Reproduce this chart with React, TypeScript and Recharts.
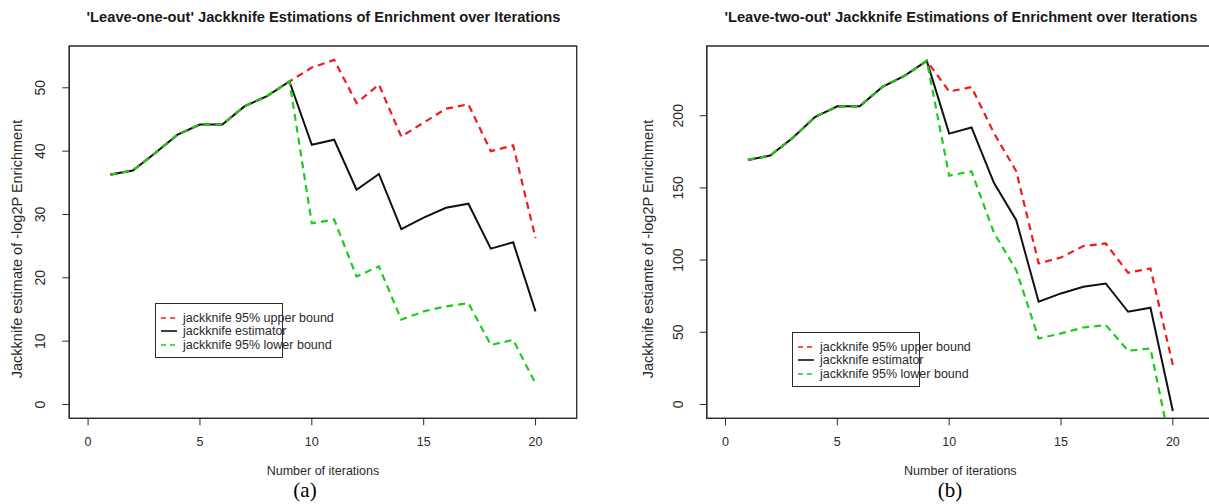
import { Label, Legend, Line, LineChart, ReferenceArea, XAxis, YAxis } from "recharts";

const FONT = '"Liberation Sans", Arial, Helvetica, sans-serif';
const INK = "#2a2a2a";
const RED = "#f01b1b";
const GREEN = "#1ccc1c";
const BLACK = "#111111";

const iterations = [1, 2, 3, 4, 5, 6, 7, 8, 9, 10, 11, 12, 13, 14, 15, 16, 17, 18, 19, 20];
const xTicks = [0, 5, 10, 15, 20];
const xDomain = [-0.84, 21.84];

// panel (a): leave-one-out
const estOne = [36.3, 36.95, 39.7, 42.6, 44.2, 44.2, 47.1, 48.7, 51.0, 41.0, 41.8, 33.9, 36.4, 27.7, 29.5, 31.05, 31.7, 24.6, 25.6, 14.7];
const upperOne = [36.3, 36.95, 39.7, 42.6, 44.2, 44.2, 47.1, 48.7, 51.0, 53.2, 54.4, 47.6, 50.5, 42.3, 44.5, 46.7, 47.4, 40.0, 40.9, 26.3];
const lowerOne = [36.3, 36.95, 39.7, 42.6, 44.2, 44.2, 47.1, 48.7, 51.0, 28.6, 29.2, 20.2, 21.8, 13.4, 14.7, 15.5, 16.0, 9.4, 10.2, 3.3];
const yTicksOne = [0, 10, 20, 30, 40, 50];
const yDomainOne = [-2.18, 56.6];

// panel (b): leave-two-out
const estTwo = [169.4, 172.4, 184.6, 199.1, 206.5, 206.5, 219.8, 227.6, 238.0, 187.6, 191.9, 153.5, 127.6, 71.1, 76.9, 81.5, 83.8, 64.2, 67.0, -4.6];
const upperTwo = [169.4, 172.4, 184.6, 199.1, 206.5, 206.5, 219.8, 227.6, 238.0, 216.8, 219.8, 188.0, 161.5, 97.7, 101.8, 109.7, 111.5, 91.2, 94.2, 27.3];
const lowerTwo = [169.4, 172.4, 184.6, 199.1, 206.5, 206.5, 219.8, 227.6, 238.0, 158.5, 161.5, 119.0, 93.0, 45.7, 49.2, 53.3, 55.0, 37.2, 38.8, -36.5];
const yTicksTwo = [0, 50, 100, 150, 200];
const yDomainTwo = [-9.6, 248.3];

// legend order: upper, estimator, lower
const seriesNames = ["jackknife 95% upper bound", "jackknife estimator", "jackknife 95% lower bound"];
const seriesColors = [RED, BLACK, GREEN];
const seriesDashes = ["5 4", undefined, "5 4"];

function buildRows(upper: number[], est: number[], lower: number[]) {
  return iterations.map((it, i) => ({ iteration: it, upper: upper[i], est: est[i], lower: lower[i] }));
}

const RotatedTick = (props: any) => {
  const { x, y, payload } = props;
  return (
    <text x={x} y={y} transform={`rotate(-90, ${x}, ${y})`} textAnchor="middle" fontSize={14} fill={INK} fontFamily={FONT}>
      {payload.value}
    </text>
  );
};

const LegendBox = () => (
  <div
    style={{
      position: "relative",
      width: 128,
      height: 55,
      boxSizing: "border-box",
      border: `1.3px solid ${INK}`,
      fontFamily: FONT,
      fontSize: 12.5,
      color: INK,
      whiteSpace: "nowrap",
    }}
  >
    {seriesNames.map((name, i) => (
      <div key={name} style={{ position: "absolute", left: 5, top: 7 + i * 13.4, height: 14, lineHeight: "14px", display: "flex", alignItems: "center" }}>
        <svg width={16} height={14} style={{ marginRight: 6 }}>
          <line x1={0} y1={7} x2={16} y2={7} stroke={seriesColors[i]} strokeWidth={1.6} strokeDasharray={seriesDashes[i]} />
        </svg>
        <span>{name}</span>
      </div>
    ))}
  </div>
);

interface PanelProps {
  left: number;
  width: number;
  yAxisWidth: number;
  rightMargin: number;
  rows: { iteration: number; upper: number; est: number; lower: number }[];
  yDomain: number[];
  yTicks: number[];
  yLabel: string;
  yLabelX: number;
  yTickMargin: number;
  legendLeft: number;
  legendTop: number;
}

function Panel(p: PanelProps) {
  return (
    <div style={{ position: "absolute", left: p.left, top: 0 }}>
      <LineChart width={p.width} height={504} data={p.rows} margin={{ top: 46, right: p.rightMargin, bottom: 0, left: 0 }}>
        <ReferenceArea x1={xDomain[0]} x2={xDomain[1]} y1={p.yDomain[0]} y2={p.yDomain[1]} fill="none" stroke={INK} strokeWidth={1.3} fillOpacity={0} />
        <XAxis
          type="number"
          dataKey="iteration"
          domain={xDomain}
          ticks={xTicks}
          allowDataOverflow
          height={85.7}
          tickSize={7}
          tickMargin={12}
          axisLine={{ stroke: INK, strokeWidth: 1.3 }}
          tickLine={{ stroke: INK }}
          tick={{ fontSize: 12.5, fill: INK, fontFamily: FONT }}
        >
          <Label
            content={({ viewBox }: any) => (
              <text x={viewBox.x + viewBox.width / 2} y={viewBox.y + 57} textAnchor="middle" fontSize={12.5} fill={INK} fontFamily={FONT}>
                Number of iterations
              </text>
            )}
          />
        </XAxis>
        <YAxis
          type="number"
          domain={p.yDomain}
          ticks={p.yTicks}
          allowDataOverflow
          width={p.yAxisWidth}
          tickSize={7}
          tickMargin={p.yTickMargin}
          axisLine={{ stroke: INK, strokeWidth: 1.3 }}
          tickLine={{ stroke: INK }}
          tick={<RotatedTick />}
        >
          <Label
            content={() => (
              <text x={p.yLabelX} y={249} transform={`rotate(-90, ${p.yLabelX}, 249)`} textAnchor="middle" fontSize={14.5} fill={INK} fontFamily={FONT}>
                {p.yLabel}
              </text>
            )}
          />
        </YAxis>
        <Legend
          layout="vertical"
          align="center"
          verticalAlign="middle"
          content={<LegendBox />}
          wrapperStyle={{ left: p.legendLeft, top: p.legendTop, width: 128, height: 55, bottom: "auto" }}
        />
        <Line name={seriesNames[0]} dataKey="upper" stroke={RED} strokeWidth={2.2} strokeDasharray="7 5" dot={false} activeDot={false} isAnimationActive={false} />
        <Line name={seriesNames[1]} dataKey="est" stroke={BLACK} strokeWidth={2} dot={false} activeDot={false} isAnimationActive={false} />
        <Line name={seriesNames[2]} dataKey="lower" stroke={GREEN} strokeWidth={2.2} strokeDasharray="7 5" dot={false} activeDot={false} isAnimationActive={false} />
      </LineChart>
    </div>
  );
}

const titleStyle: React.CSSProperties = {
  position: "absolute",
  top: 8,
  textAlign: "center",
  fontFamily: FONT,
  fontWeight: "bold",
  fontSize: 14.7,
  lineHeight: "18px",
  color: "#1a1a1a",
  whiteSpace: "nowrap",
};

const captionStyle: React.CSSProperties = {
  position: "absolute",
  top: 478,
  width: 60,
  textAlign: "center",
  fontFamily: '"Liberation Serif", "Times New Roman", serif',
  fontSize: 21,
  lineHeight: "24px",
  color: "#000",
};

export default function App() {
  return (
    <div style={{ position: "absolute", left: 0, top: 0, width: 1209, height: 504, overflow: "hidden", background: "#fff" }}>
      <Panel
        left={0}
        width={600}
        yAxisWidth={69.3}
        rightMargin={23.3}
        rows={buildRows(upperOne, estOne, lowerOne)}
        yDomain={yDomainOne}
        yTicks={yTicksOne}
        yLabel="Jackknife estimate of -log2P Enrichment"
        yLabelX={22}
        yTickMargin={17}
        legendLeft={155}
        legendTop={303}
      />
      <Panel
        left={600}
        width={620}
        yAxisWidth={106.7}
        rightMargin={6}
        rows={buildRows(upperTwo, estTwo, lowerTwo)}
        yDomain={yDomainTwo}
        yTicks={yTicksTwo}
        yLabel="Jackknife estiamte of -log2P Enrichment"
        yLabelX={53}
        yTickMargin={16.7}
        legendLeft={192}
        legendTop={332}
      />
      <div style={{ ...titleStyle, left: 0, width: 647 }}>'Leave-one-out' Jackknife Estimations of Enrichment over Iterations</div>
      <div style={{ ...titleStyle, left: 600, width: 722 }}>'Leave-two-out' Jackknife Estimations of Enrichment over Iterations</div>
      <div style={{ ...captionStyle, left: 275 }}>(a)</div>
      <div style={{ ...captionStyle, left: 920 }}>(b)</div>
    </div>
  );
}
